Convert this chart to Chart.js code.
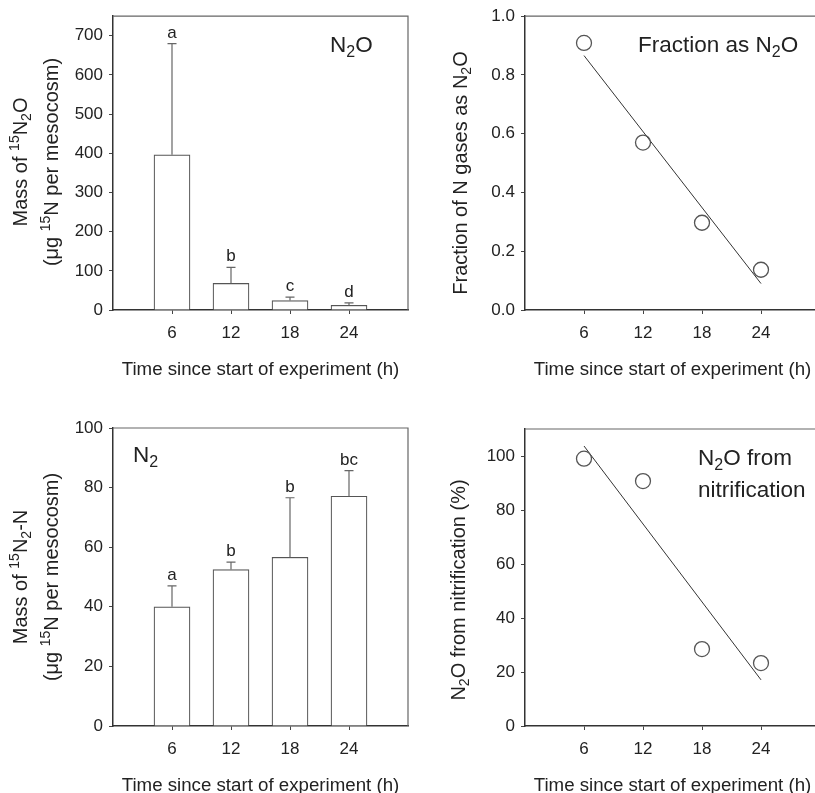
<!DOCTYPE html>
<html>
<head>
<meta charset="utf-8">
<script src="https://cdn.jsdelivr.net/npm/chart.js@4"></script>
<style>
  html, body { margin: 0; padding: 0; background: #fff; overflow: hidden; }
  body { width: 815px; height: 793px; position: relative; }
  canvas { position: absolute; }
</style>
</head>
<body>
<canvas id="n2oChart" width="420" height="400" style="left:0;top:0"></canvas>
<canvas id="fracChart" width="420" height="400" style="left:420px;top:0"></canvas>
<canvas id="n2Chart" width="420" height="393" style="left:0;top:400px"></canvas>
<canvas id="nitrifChart" width="420" height="393" style="left:420px;top:400px"></canvas>
<script>
// sampling times (h)
const hours = [6, 12, 18, 24];
const fitHours = [6, 24];

// 15N2O mass (ug 15N per mesocosm), upper error, significance letters
const n2oMass = [396, 68, 24, 12];
const n2oErr = [284, 41, 9, 6];
const n2oLetters = ['a', 'b', 'c', 'd'];

// 15N2-N mass
const n2Mass = [40, 52.5, 56.6, 77.1];
const n2Err = [7, 2.5, 20, 8.6];
const n2Letters = ['a', 'b', 'b', 'bc'];

// fraction of N gases as N2O, and fitted line ends
const fracN2O = [0.909, 0.570, 0.297, 0.137];
const fracFit = [0.866, 0.090];

// N2O from nitrification (%), and fitted line ends
const nitrifPct = [99.0, 90.7, 28.5, 23.3];
const nitrifFit = [103.7, 17.1];

// y tick labels
const n2oTicks = [0, 100, 200, 300, 400, 500, 600, 700];
const fracTicks = [0, 0.2, 0.4, 0.6, 0.8, 1.0];
const n2Ticks = [0, 20, 40, 60, 80, 100];
const nitrifTicks = [0, 20, 40, 60, 80, 100];

const FONT = '"Liberation Sans", Arial, sans-serif';
const TEXT = '#222';
Chart.defaults.font.family = FONT;

// draw text made of parts: [text, 'sub'|'sup'|undefined]
function drawRich(ctx, parts, x, y, size, align) {
    const fontFor = m => (m ? Math.round(size * 0.7) : size) + 'px ' + FONT;
    let w = 0;
    parts.forEach(p => { ctx.font = fontFor(p[1]); w += ctx.measureText(p[0]).width; });
    let cx = align === 'left' ? x : x - w / 2;
    ctx.textBaseline = 'alphabetic';
    ctx.textAlign = 'left';
    ctx.fillStyle = TEXT;
    parts.forEach(p => {
        ctx.font = fontFor(p[1]);
        const dy = p[1] === 'sub' ? size * 0.22 : p[1] === 'sup' ? -size * 0.38 : 0;
        ctx.fillText(p[0], cx, y + dy);
        cx += ctx.measureText(p[0]).width;
    });
}

function decor(cfg) {
    return {
        id: 'decor',
        afterDatasetsDraw(chart) {
            const ctx = chart.ctx;
            const a = chart.chartArea;
            ctx.save();
            // frame top/right
            ctx.strokeStyle = '#666';
            ctx.lineWidth = 1.2;
            ctx.beginPath();
            ctx.moveTo(a.left, a.top);
            ctx.lineTo(a.right, a.top);
            ctx.lineTo(a.right, a.bottom);
            ctx.stroke();

            // error bars + letters
            if (cfg.err) {
                const meta = chart.getDatasetMeta(0);
                const ys = chart.scales.y;
                ctx.strokeStyle = '#666';
                ctx.lineWidth = 1.2;
                meta.data.forEach((bar, i) => {
                    const top = ys.getPixelForValue(cfg.values[i] + cfg.err[i]);
                    ctx.beginPath();
                    ctx.moveTo(bar.x, bar.y);
                    ctx.lineTo(bar.x, top);
                    ctx.moveTo(bar.x - 4.5, top);
                    ctx.lineTo(bar.x + 4.5, top);
                    ctx.stroke();
                    ctx.font = '17px ' + FONT;
                    ctx.fillStyle = TEXT;
                    ctx.textAlign = 'center';
                    ctx.textBaseline = 'alphabetic';
                    ctx.fillText(cfg.letters[i], bar.x, top - 6);
                });
            }

            // labels inside plot
            cfg.notes.forEach(n => drawRich(ctx, n.parts, n.x, n.y, 22.5, 'left'));

            // x title
            drawRich(ctx, [['Time since start of experiment (h)']], (a.left + a.right) / 2, a.bottom + 65, 18.7);

            // y title lines
            cfg.yTitle.forEach(t => {
                ctx.save();
                ctx.translate(t.x, t.y);
                ctx.rotate(-Math.PI / 2);
                drawRich(ctx, t.parts, 0, 0, 20);
                ctx.restore();
            });
            ctx.restore();
        }
    };
}

function makeChart(id, cfg) {
    const tickGrid = { display: true, drawOnChartArea: false, drawTicks: true, tickLength: 4, color: '#444', lineWidth: 1, offset: false };
    const axisBorder = { display: true, color: '#333', width: 1.5 };
    new Chart(document.getElementById(id).getContext('2d'), {
        type: cfg.type,
        data: { datasets: cfg.datasets },
        options: {
            responsive: false,
            animation: false,
            layout: { padding: cfg.padding },
            plugins: { legend: { display: false }, tooltip: { enabled: false } },
            scales: {
                x: {
                    type: 'linear', min: 0, max: 30, offset: false,
                    afterBuildTicks: s => { s.ticks = hours.map(v => ({ value: v })); },
                    afterFit: s => { s.height = cfg.xHeight; },
                    grid: tickGrid, border: axisBorder,
                    ticks: { color: TEXT, font: { size: 17 }, padding: 9, autoSkip: false, maxRotation: 0 }
                },
                y: {
                    type: 'linear', min: 0, max: cfg.yMax,
                    afterBuildTicks: s => { s.ticks = cfg.yTicks.map(v => ({ value: v })); },
                    afterFit: s => { s.width = cfg.yWidth; },
                    grid: tickGrid, border: axisBorder,
                    ticks: { color: TEXT, font: { size: 17 }, padding: 6, callback: cfg.yFormat || (v => v) }
                }
            }
        },
        plugins: [decor(cfg)]
    });
}

function barSet(values) {
    return [{
        data: hours.map((h, i) => ({ x: h, y: values[i] })),
        backgroundColor: '#fff',
        borderColor: '#555',
        borderWidth: 1.2,
        barThickness: 36
    }];
}

function scatterSets(values, fit) {
    return [{
        data: hours.map((h, i) => ({ x: h, y: values[i] })),
        pointStyle: 'circle',
        pointRadius: 7.5,
        pointBackgroundColor: 'rgba(0,0,0,0)',
        pointBorderColor: '#555',
        pointBorderWidth: 1.3,
        showLine: false
    }, {
        type: 'line',
        data: fitHours.map((h, i) => ({ x: h, y: fit[i] })),
        borderColor: '#333',
        borderWidth: 1,
        pointRadius: 0
    }];
}

const N2O = [['N'], ['2', 'sub'], ['O']];

makeChart('n2oChart', {
    type: 'bar', datasets: barSet(n2oMass),
    values: n2oMass, err: n2oErr, letters: n2oLetters,
    padding: { top: 13, right: 12, left: 0, bottom: 0 }, yWidth: 113, xHeight: 90,
    yMax: 750, yTicks: n2oTicks,
    notes: [{ parts: N2O, x: 330, y: 52 }],
    yTitle: [
        { x: 27, y: 162, parts: [['Mass of '], ['15', 'sup'], ['N'], ['2', 'sub'], ['O']] },
        { x: 58, y: 162, parts: [['(\u03bcg '], ['15', 'sup'], ['N per mesocosm)']] }
    ]
});

makeChart('fracChart', {
    type: 'scatter', datasets: scatterSets(fracN2O, fracFit),
    padding: { top: 13, right: 20, left: 0, bottom: 0 }, yWidth: 105, xHeight: 90,
    yMax: 1, yTicks: fracTicks, yFormat: v => v.toFixed(1),
    notes: [{ parts: [['Fraction as N'], ['2', 'sub'], ['O']], x: 218, y: 52 }],
    yTitle: [{ x: 47, y: 173, parts: [['Fraction of N gases as N'], ['2', 'sub'], ['O']] }]
});

makeChart('n2Chart', {
    type: 'bar', datasets: barSet(n2Mass),
    values: n2Mass, err: n2Err, letters: n2Letters,
    padding: { top: 28, right: 12, left: 0, bottom: 0 }, yWidth: 113, xHeight: 67,
    yMax: 100, yTicks: n2Ticks,
    notes: [{ parts: [['N'], ['2', 'sub']], x: 133, y: 62 }],
    yTitle: [
        { x: 27, y: 177, parts: [['Mass of '], ['15', 'sup'], ['N'], ['2', 'sub'], ['-N']] },
        { x: 58, y: 177, parts: [['(\u03bcg '], ['15', 'sup'], ['N per mesocosm)']] }
    ]
});

makeChart('nitrifChart', {
    type: 'scatter', datasets: scatterSets(nitrifPct, nitrifFit),
    padding: { top: 29, right: 20, left: 0, bottom: 0 }, yWidth: 105, xHeight: 67,
    yMax: 110, yTicks: nitrifTicks,
    notes: [
        { parts: [['N'], ['2', 'sub'], ['O from']], x: 278, y: 65 },
        { parts: [['nitrification']], x: 278, y: 97 }
    ],
    yTitle: [{ x: 45, y: 190, parts: [['N'], ['2', 'sub'], ['O from nitrification (%)']] }]
});
</script>
</body>
</html>
